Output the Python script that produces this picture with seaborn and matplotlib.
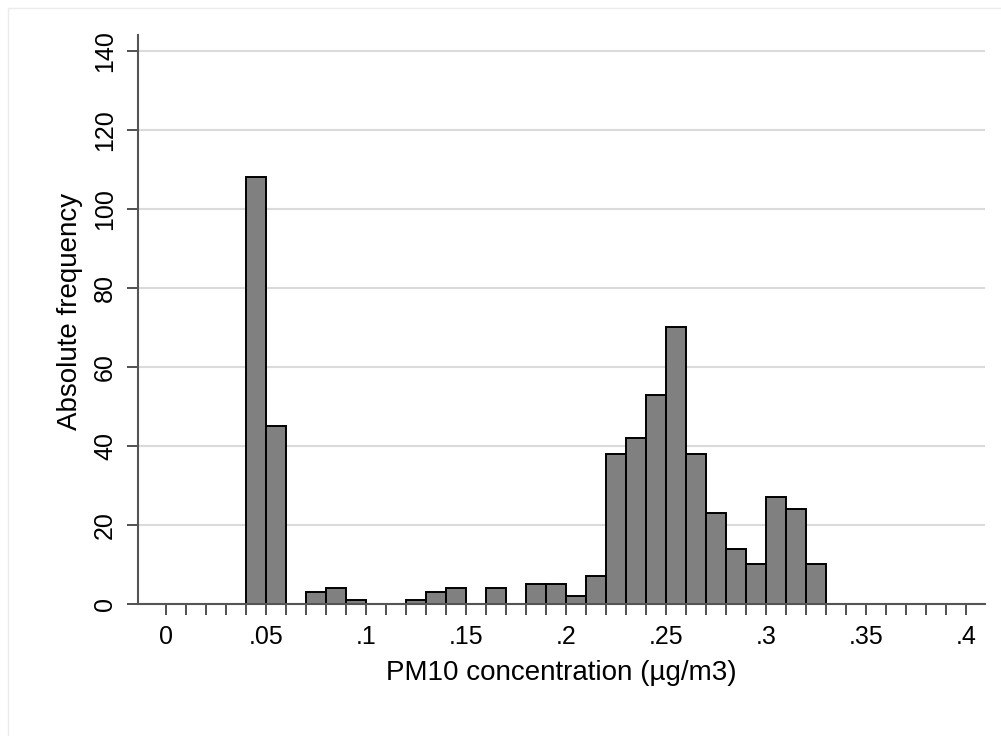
import matplotlib
matplotlib.use("Agg")
import matplotlib.pyplot as plt
import numpy as np
import pandas as pd
import seaborn as sns
from matplotlib.patches import Rectangle

# bin starts (width 0.01) and absolute counts
bin_start = [0.04, 0.05, 0.06, 0.07, 0.08, 0.09, 0.10, 0.11, 0.12, 0.13,
             0.14, 0.15, 0.16, 0.17, 0.18, 0.19, 0.20, 0.21, 0.22, 0.23,
             0.24, 0.25, 0.26, 0.27, 0.28, 0.29, 0.30, 0.31, 0.32]
counts = [108, 45, 0, 3, 4, 1, 0, 0, 1, 3,
          4, 0, 4, 0, 5, 5, 2, 7, 38, 42,
          53, 70, 38, 23, 14, 10, 27, 24, 10]
bin_width = 0.01

x_ticks = [0, 0.05, 0.1, 0.15, 0.2, 0.25, 0.3, 0.35, 0.4]
x_tick_labels = ["0", ".05", ".1", ".15", ".2", ".25", ".3", ".35", ".4"]
y_ticks = [0, 20, 40, 60, 80, 100, 120, 140]

df = pd.DataFrame({"mid": np.array(bin_start) + bin_width / 2, "n": counts})

sns.set_style("white")
plt.rcParams["font.family"] = ["Liberation Sans", "DejaVu Sans"]
plt.rcParams["text.color"] = "black"
plt.rcParams["axes.labelcolor"] = "black"
plt.rcParams["xtick.color"] = "black"
plt.rcParams["ytick.color"] = "black"

fig = plt.figure(figsize=(10.01, 7.36), dpi=100)
# faint outer frame, running off the right and bottom edges like the original
fig.patches.append(Rectangle((8 / 1001, -10 / 736), 1010 / 1001, 738 / 736,
                             transform=fig.transFigure, fill=False,
                             edgecolor="#EBEBEB", linewidth=1))
ax = fig.add_axes([138 / 1001, 1 - 604 / 736, 847 / 1001, 569 / 736])

ax.yaxis.grid(True, color="#DADADA", linewidth=1.5)
ax.set_axisbelow(True)

sns.histplot(data=df, x="mid", weights="n", binwidth=bin_width,
             binrange=(bin_start[0], bin_start[-1] + bin_width), ax=ax,
             color="#808080", alpha=1, edgecolor="black", linewidth=1.4)

ax.set_xlim(-0.014, 0.4095)
ax.set_ylim(0, 144)
ax.set_xticks(x_ticks)
ax.set_xticklabels(x_tick_labels)
ax.set_xticks(np.arange(0, 0.4001, 0.01), minor=True)
ax.set_yticks(y_ticks)
ax.set_yticklabels([str(v) for v in y_ticks], rotation=90, va="center")

ax.tick_params(axis="both", which="both", direction="out", length=8,
               width=1.2, color="#333333", labelsize=18, pad=7,
               bottom=True, left=True)

for s in ["top", "right"]:
    ax.spines[s].set_visible(False)
for s in ["left", "bottom"]:
    ax.spines[s].set_color("#555555")
    ax.spines[s].set_linewidth(1.5)

ax.set_xlabel("PM10 concentration (µg/m3)", fontsize=20, labelpad=8)
ax.set_ylabel("Absolute frequency", fontsize=20, labelpad=10)
ax.yaxis.set_label_coords(-0.065, 0.515)

plt.savefig("out.png", dpi=100)
plt.close()
